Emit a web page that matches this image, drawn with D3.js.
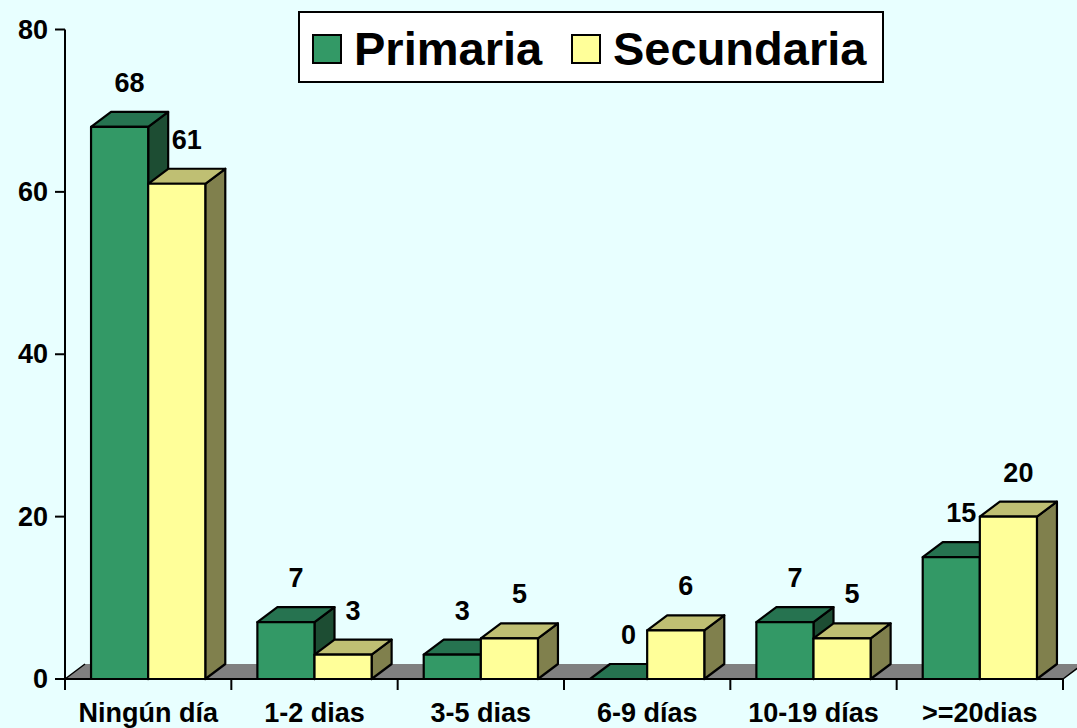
<!DOCTYPE html>
<html>
<head>
<meta charset="utf-8">
<script src="https://cdn.jsdelivr.net/npm/d3@7"></script>
<style>
	body { margin: 0; background: #e8ffff; }
	svg { display: block; }
	text { font-family: "Liberation Sans", Arial, sans-serif; font-weight: bold; fill: #000; }
</style>
</head>
<body>
<svg width="1077" height="728"></svg>
<script>
const categories = ["Ningún día", "1-2 dias", "3-5 dias", "6-9 días", "10-19 días", ">=20dias"]
const series = ["Primaria", "Secundaria"]
const primaria = [68, 7, 3, 0, 7, 15]
const secundaria = [61, 3, 5, 6, 5, 20]
const yTicks = [0, 20, 40, 60, 80]

const svg = d3.select("svg"),
	width = +svg.attr("width"),
	height = +svg.attr("height");

svg.append("rect").attr("width", width).attr("height", height).attr("fill", "#e8ffff")

// 3D depth offset
const dx = 20, dy = -15

const x0 = d3.scaleBand().domain(categories).range([65, 1063])
const x1 = d3.scaleBand().domain(series).range([0, x0.bandwidth()]).paddingOuter(0.456)
const y = d3.scaleLinear().domain([0, 80]).range([679, 29.5])

const colors = {
	Primaria: { front: "#339966", top: "#267350", side: "#1d4d33" },
	Secundaria: { front: "#ffff99", top: "#bfbf73", side: "#80804d" }
}

// floor
const y0 = y(0)
svg.append("path")
	.attr("d", `M65,${y0} L${65 + dx},${y0 + dy} L${1063 + dx},${y0 + dy} L1063,${y0} Z`)
	.attr("fill", "#808080")
svg.append("path")
	.attr("d", `M65,${y0} L${65 + dx},${y0 + dy} M1063,${y0} L${1063 + dx},${y0 + dy}`)
	.attr("stroke", "#000").attr("stroke-width", 1.5)

// bars
const rows = []
categories.forEach((c, i) => {
	rows.push({ cat: c, s: "Primaria", v: primaria[i] })
	rows.push({ cat: c, s: "Secundaria", v: secundaria[i] })
})

const bars = svg.append("g")
	.selectAll("g")
	.data(rows)
	.join("g")
	.attr("stroke", "#000")
	.attr("stroke-width", 2.2)
	.attr("stroke-linejoin", "round")

bars.each(function (d) {
	const g = d3.select(this)
	const xl = x0(d.cat) + x1(d.s), xr = xl + x1.bandwidth()
	const yt = y(d.v)
	// side face
	g.append("path")
		.attr("d", `M${xr},${yt} L${xr + dx},${yt + dy} L${xr + dx},${y0 + dy} L${xr},${y0} Z`)
		.attr("fill", colors[d.s].side)
	// top face
	g.append("path")
		.attr("d", `M${xl},${yt} L${xl + dx},${yt + dy} L${xr + dx},${yt + dy} L${xr},${yt} Z`)
		.attr("fill", colors[d.s].top)
	// front face
	g.append("rect")
		.attr("x", xl).attr("y", yt)
		.attr("width", xr - xl).attr("height", y0 - yt)
		.attr("fill", colors[d.s].front)
})

// value labels
svg.append("g")
	.selectAll("text")
	.data(rows)
	.join("text")
	.attr("x", d => x0(d.cat) + x1(d.s) + x1.bandwidth() / 2 + 10)
	.attr("y", d => y(d.v) - 35)
	.attr("text-anchor", "middle")
	.attr("font-size", 27)
	.text(d => d.v)

// y axis
const yAxis = svg.append("g")
yAxis.append("line")
	.attr("x1", 65).attr("x2", 65)
	.attr("y1", y(80)).attr("y2", y0)
	.attr("stroke", "#000").attr("stroke-width", 2)
yAxis.selectAll("line.tick")
	.data(yTicks)
	.join("line")
	.attr("class", "tick")
	.attr("x1", 55).attr("x2", 65)
	.attr("y1", d => y(d)).attr("y2", d => y(d))
	.attr("stroke", "#000").attr("stroke-width", 2)
yAxis.selectAll("text")
	.data(yTicks)
	.join("text")
	.attr("x", 48)
	.attr("y", d => y(d))
	.attr("dy", "0.34em")
	.attr("text-anchor", "end")
	.attr("font-size", 27)
	.text(d => d)

// x axis
const xAxis = svg.append("g")
xAxis.append("line")
	.attr("x1", 65).attr("x2", 1063)
	.attr("y1", y0).attr("y2", y0)
	.attr("stroke", "#000").attr("stroke-width", 2)
xAxis.selectAll("line.tick")
	.data(categories.concat(["end"]))
	.join("line")
	.attr("class", "tick")
	.attr("x1", (d, i) => i < categories.length ? x0(d) : 1063)
	.attr("x2", (d, i) => i < categories.length ? x0(d) : 1063)
	.attr("y1", y0).attr("y2", y0 + 11)
	.attr("stroke", "#000").attr("stroke-width", 2)
xAxis.selectAll("text")
	.data(categories)
	.join("text")
	.attr("x", d => x0(d) + x0.bandwidth() / 2)
	.attr("y", 722)
	.attr("text-anchor", "middle")
	.attr("font-size", 27)
	.text(d => d)

// legend
const legend = svg.append("g")
legend.append("rect")
	.attr("x", 299).attr("y", 12)
	.attr("width", 584).attr("height", 70)
	.attr("fill", "#fff").attr("stroke", "#000").attr("stroke-width", 2)
const legendX = [313, 572]
series.forEach((s, i) => {
	legend.append("rect")
		.attr("x", legendX[i]).attr("y", 35)
		.attr("width", 28).attr("height", 28)
		.attr("fill", colors[s].front)
		.attr("stroke", "#000").attr("stroke-width", 2)
	legend.append("text")
		.attr("x", legendX[i] + 41).attr("y", 65)
		.attr("font-size", 47)
		.text(s)
})
</script>
</body>
</html>
